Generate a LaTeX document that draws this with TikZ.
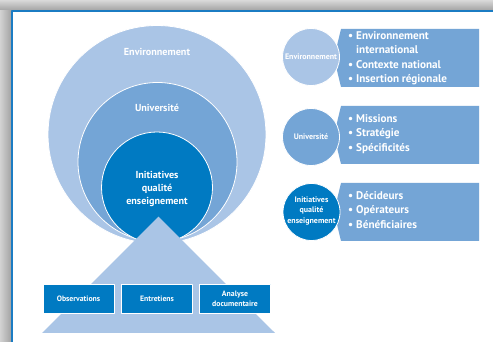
\documentclass[tikz,border=0pt]{standalone}
\usepackage{fontspec}
\setmainfont{PT Sans}
\definecolor{envblue}{RGB}{170,197,230}
\definecolor{univblue}{RGB}{116,165,214}
\definecolor{initblue}{RGB}{0,122,194}
\definecolor{rimblue}{RGB}{27,124,195}
\begin{document}
\begin{tikzpicture}[>=latex,line join=bevel,
  ring/.style={circle,draw=white,line width=0.8bp,inner sep=0pt},
  lbl/.style={text=white,font=\bfseries\fontsize{10.2}{13.5}\selectfont,align=center,inner sep=0pt},
  minilbl/.style={text=white,font=\bfseries\fontsize{8}{10.5}\selectfont,align=center,inner sep=0pt},
  toolbox/.style={rectangle,fill=initblue,draw=white,line width=0.8bp,minimum width=71bp,minimum height=29bp,
    text=white,font=\bfseries\fontsize{7.8}{10}\selectfont,align=center,inner sep=0pt},
  listtxt/.style={anchor=west,text=white,inner sep=0pt,font=\bfseries\fontsize{11.2}{14.5}\selectfont},
]
\useasboundingbox (0bp,0bp) rectangle (493bp,342bp);
%% frame
\fill[white] (12bp,0bp) rectangle (493bp,331bp);
\shade[top color=gray!30,bottom color=gray!75] (0bp,331bp) rectangle (493bp,342bp);
\shade[left color=gray!35,right color=gray!75] (0bp,0bp) rectangle (12bp,331bp);
\draw[rimblue,line width=2bp] (12.2bp,0bp) -- (12.2bp,331bp) -- (493bp,331bp);
%% nested circles
\node (node_env) at (157bp,207.5bp) [ring,fill=envblue,minimum size=218bp] {};
\node (node_univ) at (157.5bp,180bp) [ring,fill=univblue,minimum size=159bp] {};
\node (node_init) at (157bp,154.5bp) [ring,fill=initblue,minimum size=111bp] {};
\node (lbl_env) at (157bp,290bp) [lbl] {Environnement};
\node (lbl_univ) at (157bp,234bp) [lbl] {Université};
\node (lbl_init) at (157bp,153bp) [lbl] {Initiatives\\qualité\\enseignement};
%% triangle and tools
\fill[envblue] (42bp,9bp) -- (158.5bp,125.3bp) -- (275bp,9bp) -- cycle;
\node (tool_obs) at (78.5bp,43.5bp) [toolbox] {Observations};
\node (tool_ent) at (157bp,43.5bp) [toolbox] {Entretiens};
\node (tool_doc) at (235bp,43.5bp) [toolbox] {Analyse\\documentaire};
%% right column
\fill[univblue] (341bp,313bp) -- (479bp,313bp) -- (479bp,255bp) -- (341bp,255bp) -- (334bp,284bp) -- cycle;
\fill[univblue] (341bp,236bp) -- (479bp,236bp) -- (479bp,178bp) -- (341bp,178bp) -- (334bp,207bp) -- cycle;
\fill[univblue] (341bp,159bp) -- (479bp,159bp) -- (479bp,101bp) -- (341bp,101bp) -- (334bp,130bp) -- cycle;
\node (mini_env) at (311bp,285bp) [ring,fill=envblue,minimum size=57bp] {};
\node (mini_univ) at (311bp,205bp) [ring,fill=univblue,minimum size=57bp] {};
\node (mini_init) at (311.5bp,130bp) [ring,fill=initblue,minimum size=57bp] {};
\node (mlbl_env) at (311bp,285bp) [minilbl] {Environnement};
\node (mlbl_univ) at (311bp,205bp) [minilbl] {Université};
\node (mlbl_init) at (311.5bp,131bp) [minilbl] {Initiatives\\qualité\\enseignement};
\node (list_env) at (348bp,284bp) [listtxt] {\begin{tabular}{@{}l@{\hspace{3bp}}l@{}}\textbullet & Environnement\\ & international\\ \textbullet & Contexte national\\ \textbullet & Insertion régionale\end{tabular}};
\node (list_univ) at (348bp,208bp) [listtxt] {\begin{tabular}{@{}l@{\hspace{3bp}}l@{}}\textbullet & Missions\\ \textbullet & Stratégie\\ \textbullet & Spécificités\end{tabular}};
\node (list_init) at (348bp,131bp) [listtxt] {\begin{tabular}{@{}l@{\hspace{3bp}}l@{}}\textbullet & Décideurs\\ \textbullet & Opérateurs\\ \textbullet & Bénéficiaires\end{tabular}};
%
\end{tikzpicture}
\end{document}
